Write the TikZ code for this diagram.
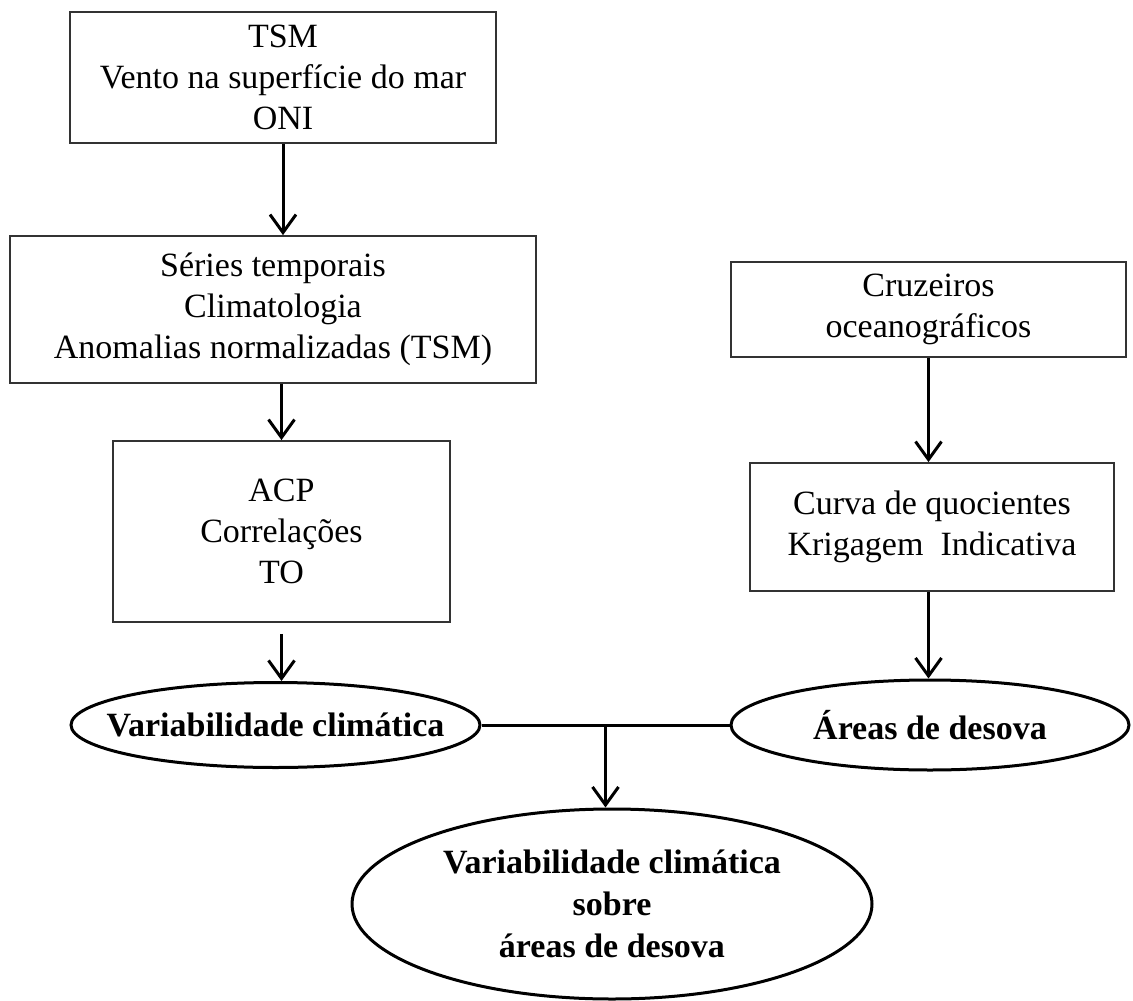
\documentclass[tikz,border=0pt]{standalone}
\usepackage{fontspec}
\setmainfont{Liberation Serif}
\usetikzlibrary{shapes.geometric,arrows.meta,calc}

\begin{document}
\begin{tikzpicture}[x=1pt,y=-1pt,
    caixa/.style={draw=black!80, line width=1.8pt, rectangle, inner sep=0pt, align=center, font=\fontsize{34}{41}\selectfont},
    elipse/.style={draw, line width=3pt, ellipse, inner sep=0pt, align=center, font=\fontsize{34}{42}\selectfont\bfseries},
    seta/.style={line width=3pt, -{Straight Barb[length=18pt,width=26pt,line width=3pt]}}]
    \useasboundingbox (0,0) rectangle (1133,1001);
    % ramo da esquerda
    \node[caixa, minimum width=426pt, minimum height=131pt] (dados) at (283,77.5) {TSM\\Vento na superfície do mar\\ONI};
    \node[caixa, minimum width=526pt, minimum height=147pt] (series) at (273,309.5) {Séries temporais\\Climatologia\\Anomalias normalizadas (TSM)};
    \node[caixa, minimum width=337pt, minimum height=181pt] (acp) at (281.5,531.5) {\rule{0pt}{14pt}ACP\\Correlações\\TO};
    \node[elipse, inner xsep=-30pt, minimum width=409pt, minimum height=85pt] (clima) at (275.5,725) {Variabilidade climática};
    % ramo da direita
    \node[caixa, minimum width=395pt, minimum height=95pt] (cruzeiros) at (928.5,309.5) {Cruzeiros\\oceanográficos};
    \node[caixa, minimum width=364pt, minimum height=128pt] (curva) at (932,527) {Curva de quocientes\\Krigagem\ \ Indicativa};
    \node[elipse, minimum width=398pt, minimum height=90pt] (areas) at (930,725) {Áreas de desova};
    % resultado
    \node[elipse, minimum width=520pt, minimum height=190pt] (sintese) at (612,904) {Variabilidade climática\\sobre\\áreas de desova};
    \coordinate (juncao) at ($(clima.east)!0.5!(areas.west)$);

    \draw[seta] (dados.south) -- (dados.south |- series.north);
    \draw[seta] (acp.north |- series.south) -- (acp.north);
    \draw[seta, shorten <=11pt] (acp.south) -- (acp.south |- clima.north);
    \draw[seta] (cruzeiros.south) -- (cruzeiros.south |- curva.north);
    \draw[seta] (curva.south -| cruzeiros.south) -- (cruzeiros.south |- areas.north);
    \draw[line width=3pt] (clima.east) -- (areas.west);
    \draw[seta] (juncao) -- (juncao |- sintese.north);
\end{tikzpicture}
\end{document}
